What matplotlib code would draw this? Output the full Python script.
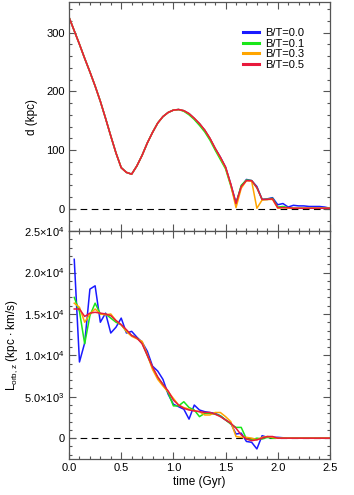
import numpy as np
import matplotlib
matplotlib.use("Agg")
import matplotlib.pyplot as plt
from matplotlib.ticker import MultipleLocator, FixedLocator

plt.rcParams['font.family'] = ['Liberation Sans', 'DejaVu Sans']
plt.rcParams['mathtext.fontset'] = 'custom'
plt.rcParams['mathtext.rm'] = 'Liberation Sans'
plt.rcParams['mathtext.it'] = 'Liberation Sans'

# time grid (Gyr)
t_d = np.arange(51) * 0.05          # 0.00 .. 2.50
t_l = np.arange(1, 51) * 0.05       # 0.05 .. 2.50

labels = ["B/T=0.0", "B/T=0.1", "B/T=0.3", "B/T=0.5"]
colors = ["#1a1aff", "#19e619", "#ffa500", "#e8193c"]

# orbital distance d (kpc)
d_bt00 = [326, 303, 280, 256, 233, 209, 183, 154, 124, 95, 70, 62, 59, 73, 91, 112, 130, 146,
          157, 164, 168, 169, 167, 162, 154, 145, 134, 120, 103, 88, 71, 42, 10, 38, 50, 48,
          38, 16, 17, 19, 7, 9, 3, 6, 5, 5, 4, 4, 4, 3, 1]
d_bt01 = [326, 303, 280, 256, 233, 209, 183, 154, 124, 95, 70, 62, 59, 73, 91, 112, 130, 146,
          157, 164, 168, 169, 166, 160, 152, 142, 131, 117, 100, 84, 68, 39, 8, 40, 49, 48,
          36, 16, 16, 18, 3, 4, 2, 1, 1, 1, 1, 1, 1, 1, 1]
d_bt03 = [326, 303, 280, 256, 233, 209, 183, 154, 124, 95, 70, 62, 59, 73, 91, 112, 130, 146,
          157, 164, 168, 169, 167, 162, 154, 145, 134, 120, 103, 87, 70, 41, 2, 35, 48, 47,
          1, 15, 16, 16, 1, 2, 1, 1, 1, 1, 1, 1, 1, 1, 1]
d_bt05 = [326, 303, 280, 256, 233, 209, 183, 154, 124, 95, 70, 62, 59, 73, 91, 112, 130, 146,
          157, 164, 168, 169, 167, 162, 154, 145, 134, 120, 103, 88, 71, 42, 9, 38, 48, 48,
          36, 16, 16, 17, 2, 2, 2, 1, 1, 1, 1, 1, 1, 1, 1]

# orbital angular momentum L_orb,z (kpc km/s)
l_bt00 = [21600, 9200, 11500, 18000, 18400, 14000, 15100, 12700, 13400, 14500, 12700, 12900,
          12200, 11600, 10500, 8700, 8100, 7100, 5300, 4100, 3800, 3500, 2300, 4000, 3400,
          3200, 3100, 3000, 2700, 2200, 1800, 500, 600, -400, -500, -1300, 300, 100, 100, 100,
          50, 0, 0, 0, 0, 0, 0, 0, 0, 0]
l_bt01 = [17000, 15300, 11400, 14800, 16300, 15000, 15000, 14500, 14000, 13700, 12900, 12400,
          12100, 11500, 10000, 8500, 7300, 6500, 5500, 3900, 3900, 4400, 3700, 3400, 2600,
          3000, 3000, 2900, 2700, 2200, 1700, 1300, 1300, -100, -200, 0, -100, 100, 0, 0,
          0, 0, 0, 0, 0, 0, 0, 0, 0, 0]
l_bt03 = [16300, 15800, 14000, 15000, 15600, 15000, 14900, 15000, 14200, 13700, 12900, 12300,
          12000, 11700, 10100, 8300, 7100, 6300, 5600, 4800, 4000, 3700, 3500, 3300, 3200,
          2800, 2800, 3100, 3100, 2600, 2000, 200, 100, 100, 0, -200, 100, 200, 100, 0,
          0, 0, 0, 0, 0, 0, 0, 0, 0, 0]
l_bt05 = [15600, 15600, 14700, 15100, 15200, 15100, 15000, 14800, 14200, 13700, 13100, 12400,
          12100, 11400, 10000, 8600, 7400, 6500, 5700, 4600, 4000, 3600, 3400, 3300, 3200,
          3100, 3100, 2900, 2600, 2200, 1800, 1200, 400, -100, -300, -200, 0, 200, 200, 0,
          0, 0, 0, 0, 0, 0, 0, 0, 0, 0]

d_all = [d_bt00, d_bt01, d_bt03, d_bt05]
l_all = [l_bt00, l_bt01, l_bt03, l_bt05]

fig = plt.figure(figsize=(3.54, 4.95), dpi=100)
ax1 = fig.add_axes([0.195, 0.533, 0.737, 0.463])
ax2 = fig.add_axes([0.195, 0.073, 0.737, 0.460], sharex=ax1)

frame_col = "#555555"
for ax in (ax1, ax2):
    ax.axhline(0, color="black", lw=0.8, ls=(0, (6, 4)), zorder=1)
    ax.tick_params(which="both", direction="in", top=True, right=True,
                   color=frame_col, labelsize=8, pad=3)
    ax.tick_params(which="major", length=5, width=0.8)
    ax.tick_params(which="minor", length=2.5, width=0.8)
    for s in ax.spines.values():
        s.set_color(frame_col)
        s.set_linewidth(0.9)

for dv, lab, c in zip(d_all, labels, colors):
    ax1.plot(t_d, dv, color=c, lw=1.1, label=lab)
for lv, c in zip(l_all, colors):
    ax2.plot(t_l, lv, color=c, lw=1.1)

ax1.set_xlim(0, 2.5)
ax1.set_ylim(-38, 352)
ax1.yaxis.set_major_locator(FixedLocator([0, 100, 200, 300]))
ax1.yaxis.set_minor_locator(MultipleLocator(20))
ax1.xaxis.set_major_locator(MultipleLocator(0.5))
ax1.xaxis.set_minor_locator(MultipleLocator(0.1))
ax1.tick_params(labelbottom=False)
ax1.set_ylabel("d (kpc)", fontsize=8.5, labelpad=6)

leg = ax1.legend(loc="upper right", bbox_to_anchor=(0.93, 0.92), frameon=False,
                 fontsize=8, handlelength=1.5, handletextpad=0.5,
                 labelspacing=0.05, borderpad=0.2)
for h in leg.get_lines():
    h.set_linewidth(2.2)

ax2.set_ylim(-2500, 25000)
ax2.yaxis.set_major_locator(FixedLocator([0, 5000, 10000, 15000, 20000, 25000]))
ax2.yaxis.set_minor_locator(MultipleLocator(1000))
ax2.set_yticklabels(["0", r"5.0$\times$10$^3$", r"1.0$\times$10$^4$",
                     r"1.5$\times$10$^4$", r"2.0$\times$10$^4$", r"2.5$\times$10$^4$"])
ax2.set_xticks([0, 0.5, 1.0, 1.5, 2.0, 2.5])
ax2.set_xticklabels(["0.0", "0.5", "1.0", "1.5", "2.0", "2.5"])
ax2.set_xlabel("time (Gyr)", fontsize=8.5, labelpad=2)
ax2.set_ylabel(r"L$_{\rm orb,z}$ (kpc $\bullet$ km/s)", fontsize=8.5, labelpad=3)

fig.savefig("out.png", dpi=100)
